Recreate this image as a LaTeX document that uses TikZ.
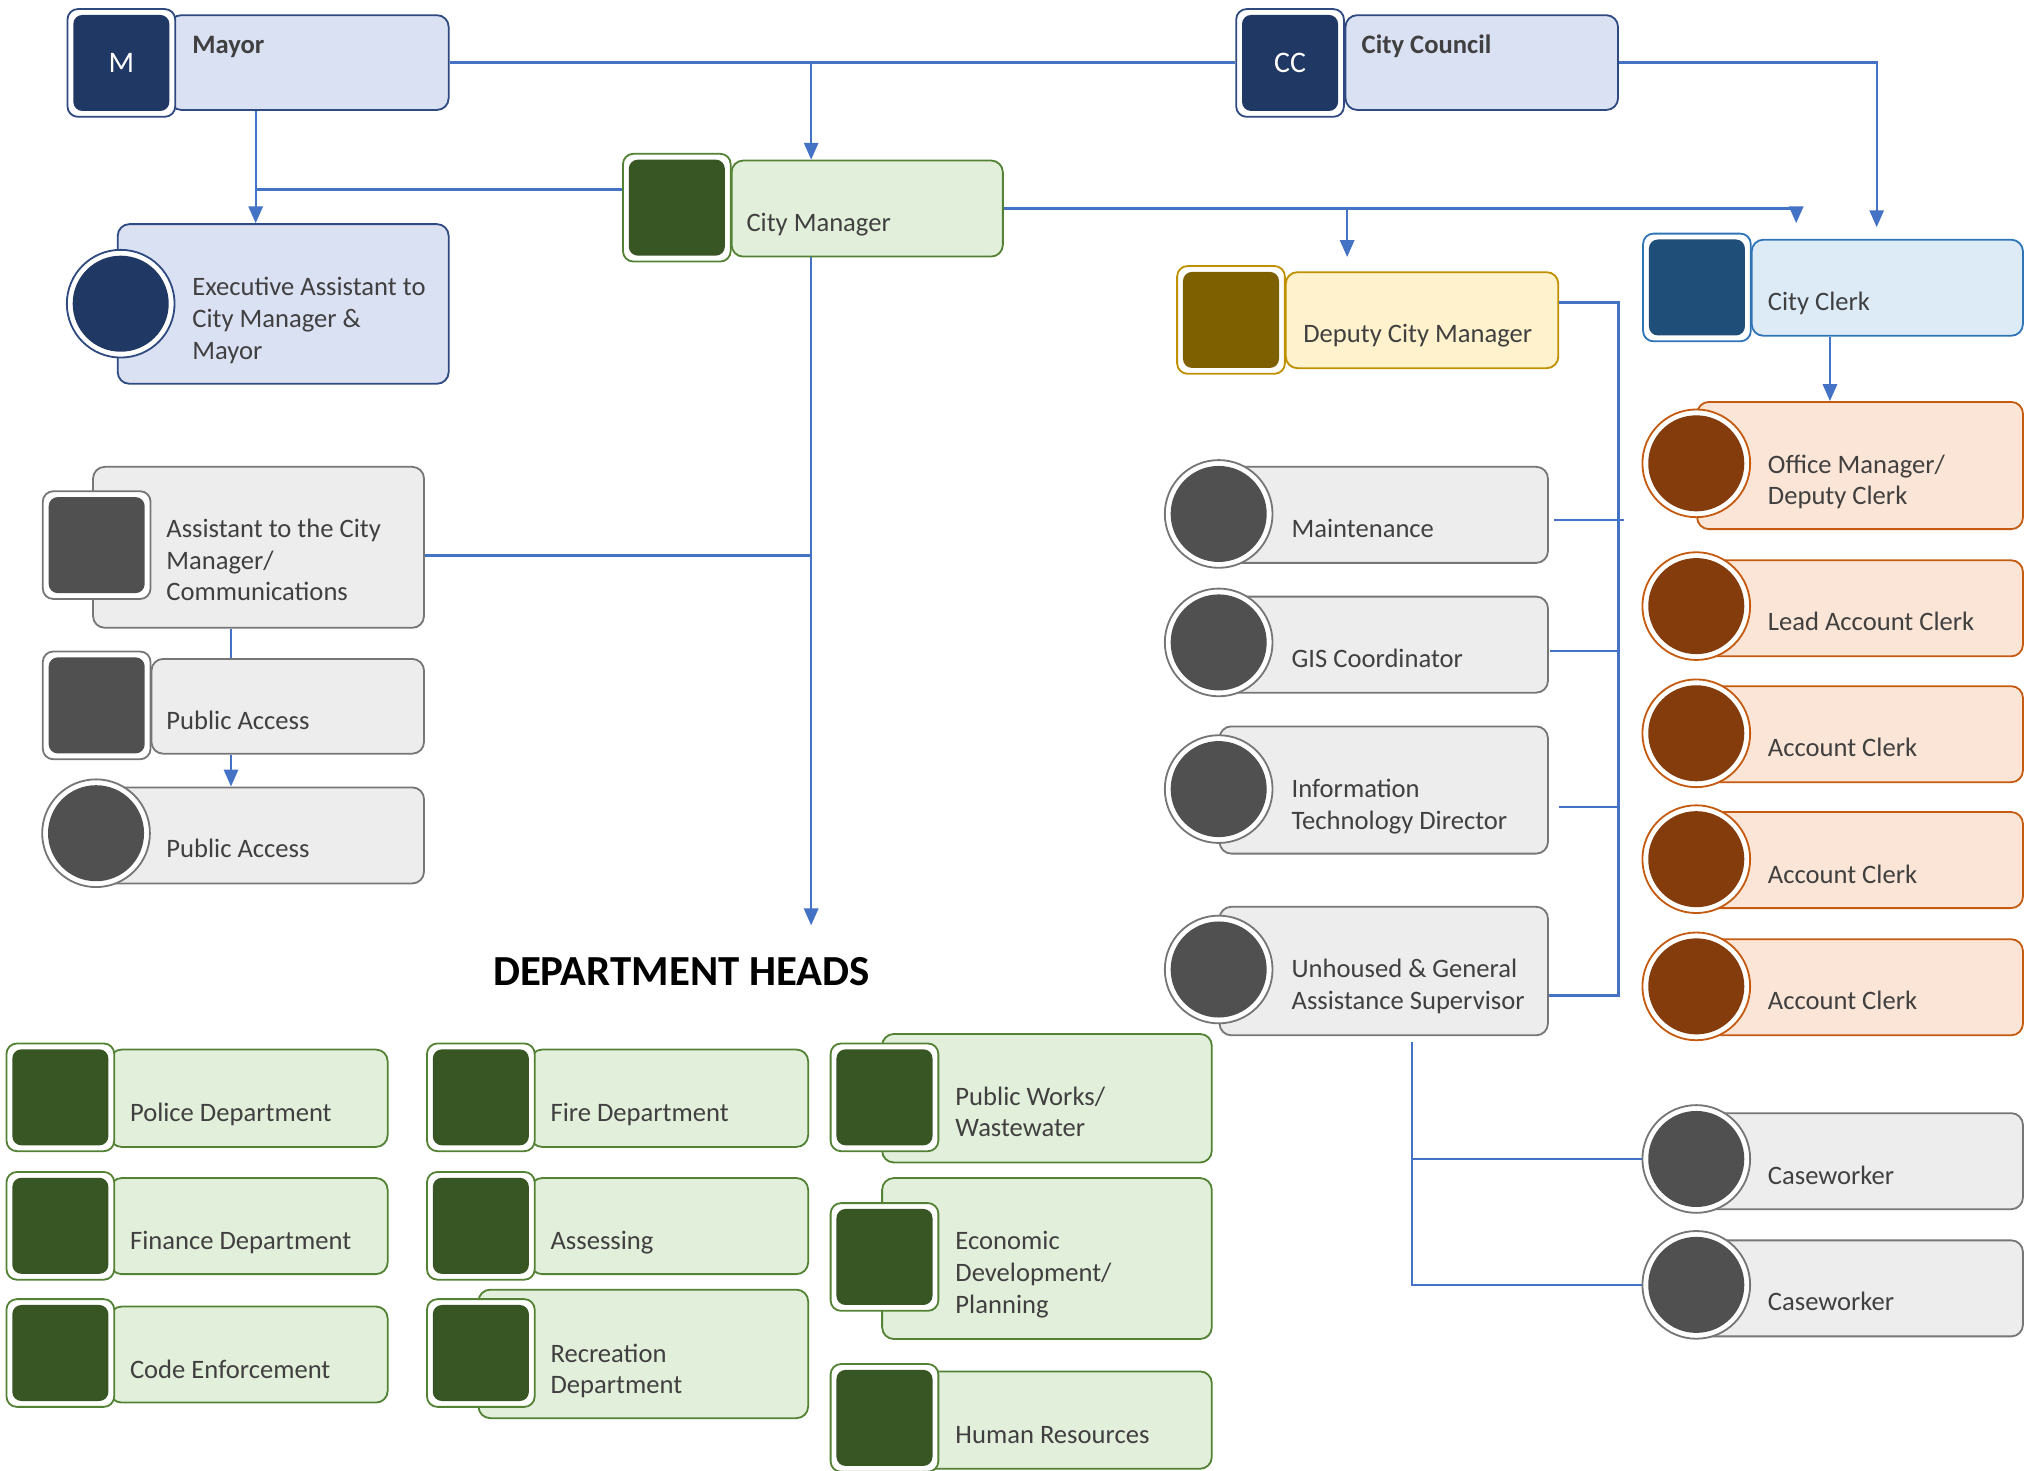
\documentclass[tikz,border=0pt]{standalone}
\usepackage{fontspec}
\setmainfont{Carlito}
\usetikzlibrary{arrows.meta,calc}

\definecolor{txt}{HTML}{404040}
\definecolor{linkblue}{HTML}{4472C4}
% card palettes: icon fill, body fill, border
\definecolor{navyI}{HTML}{203864}\definecolor{navyB}{HTML}{DAE1F3}\definecolor{navyL}{HTML}{2F4A80}
\definecolor{greenI}{HTML}{375623}\definecolor{greenB}{HTML}{E2EFDA}\definecolor{greenL}{HTML}{548235}
\definecolor{oliveI}{HTML}{7F6000}\definecolor{oliveB}{HTML}{FFF2CC}\definecolor{oliveL}{HTML}{BF9000}
\definecolor{blueI}{HTML}{1F4E79}\definecolor{blueB}{HTML}{DDEBF7}\definecolor{blueL}{HTML}{2E75B6}
\definecolor{grayI}{HTML}{505050}\definecolor{grayB}{HTML}{EDEDED}\definecolor{grayL}{HTML}{767676}
\definecolor{brownI}{HTML}{843C0C}\definecolor{brownB}{HTML}{FBE5D6}\definecolor{brownL}{HTML}{C55A11}

\newcommand\lblfont{\fontsize{20.5}{24.5}\selectfont}

\tikzset{
  body/.style={draw, rounded corners=9pt, line width=1.4pt, anchor=north west, inner sep=0pt},
  sqframe/.style={draw, fill=white, rounded corners=8pt, line width=1.4pt,
    minimum width=83pt, minimum height=83pt, inner sep=0pt},
  sqicon/.style={rounded corners=7pt, minimum width=74pt, minimum height=74pt, inner sep=0pt},
  ring/.style={circle, draw, fill=white, line width=1.4pt, minimum size=83pt, inner sep=0pt},
  dot/.style={circle, minimum size=74pt, inner sep=0pt},
  lbl/.style={anchor=base west, align=left, text=txt, font=\lblfont, inner sep=0pt},
  title/.style={lbl, font=\lblfont\bfseries},
  link/.style={draw=linkblue, line width=1.7pt},
  arr/.style={link, -{Triangle[width=11pt,length=13pt]}},
  navy/.style={draw=navyL, fill=navyB}, navyF/.style={draw=navyL}, navyD/.style={fill=navyI},
  green/.style={draw=greenL, fill=greenB}, greenF/.style={draw=greenL}, greenD/.style={fill=greenI},
  olive/.style={draw=oliveL, fill=oliveB}, oliveF/.style={draw=oliveL}, oliveD/.style={fill=oliveI},
  blu/.style={draw=blueL, fill=blueB}, bluF/.style={draw=blueL}, bluD/.style={fill=blueI},
  gry/.style={draw=grayL, fill=grayB}, gryF/.style={draw=grayL}, gryD/.style={fill=grayI},
  brn/.style={draw=brownL, fill=brownB}, brnF/.style={draw=brownL}, brnD/.style={fill=brownI},
}

% square-icon card: name, palette, body x, body y, width, height, icon centre
\newcommand\sqcard[7]{%
  \node[body,#2,minimum width=#5pt,minimum height=#6pt] (#1) at (#3,#4) {};
  \node[sqframe,#2F] (#1F) at #7 {};
  \node[sqicon,#2D] (#1I) at #7 {};}
% round-icon card: name, palette, body x, body y, width, height, icon centre
\newcommand\rdcard[7]{%
  \node[body,#2,minimum width=#5pt,minimum height=#6pt] (#1) at (#3,#4) {};
  \node[ring,#2F] (#1F) at #7 {};
  \node[dot,#2D] (#1I) at #7 {};}

\begin{document}
\begin{tikzpicture}[x=1pt,y=-1pt]
\useasboundingbox (0,0) rectangle (1568,1133);

% ---------- top level ----------
\sqcard{mayor}{navy}{130}{11}{215}{73}{(93.5,48.5)}
\node[text=white, font=\fontsize{23}{26}\selectfont] (mayorM) at (mayorI) {M};
\node[title] (mayorT) at (148,41) {Mayor};

\sqcard{cc}{navy}{1036}{11}{210}{73}{(994,48.5)}
\node[text=white, font=\fontsize{23}{26}\selectfont] (ccM) at (ccI) {CC};
\node[title] (ccT) at (1049,41) {City Council};

\sqcard{cm}{green}{563}{123}{209}{74}{(521.5,160)}
\node[lbl] (cmT) at (575,178) {City Manager};

\rdcard{exec}{navy}{90}{172}{255}{123}{(93,234)}
\node[lbl] (execT) at (148,277) {Executive Assistant to\\City Manager \&\\Mayor};

\sqcard{dcm}{olive}{990}{209}{210}{74}{(948.5,246.5)}
\node[lbl] (dcmT) at (1004,264) {Deputy City Manager};

\sqcard{clerk}{blu}{1349}{184}{209}{74}{(1307.5,221.5)}
\node[lbl] (clerkT) at (1362,239) {City Clerk};

% ---------- city manager's office ----------
\sqcard{asst}{gry}{71}{359}{255}{124}{(74.5,420)}
\node[lbl] (asstT) at (128,463) {Assistant to the City\\Manager/\\Communications};

\sqcard{pa}{gry}{116}{507}{210}{73}{(74.5,543.5)}
\node[lbl] (paT) at (128,562) {Public Access};

\rdcard{pb}{gry}{74}{606}{252}{74}{(74,642)}
\node[lbl] (pbT) at (128,661) {Public Access};

% ---------- deputy city manager's staff ----------
\rdcard{mnt}{gry}{939}{359}{253}{74}{(939,396)}
\node[lbl] (mntT) at (995,414) {Maintenance};
\rdcard{gis}{gry}{939}{459}{253}{74}{(939,495)}
\node[lbl] (gisT) at (995,514) {GIS Coordinator};
\rdcard{itd}{gry}{939}{559}{253}{98}{(939,608)}
\node[lbl] (itdT) at (995,639) {Information\\Technology Director};
\rdcard{unh}{gry}{939}{698}{253}{99}{(939,747)}
\node[lbl] (unhT) at (995,778) {Unhoused \& General\\Assistance Supervisor};

% ---------- clerk's office ----------
\rdcard{om}{brn}{1307}{309}{251}{98}{(1307,357)}
\node[lbl] (omT) at (1362,389) {Office Manager/\\Deputy Clerk};
\rdcard{lac}{brn}{1307}{431}{251}{74}{(1307,467)}
\node[lbl] (lacT) at (1362,486) {Lead Account Clerk};
\rdcard{aca}{brn}{1307}{528}{251}{74}{(1307,565)}
\node[lbl] (acaT) at (1362,583) {Account Clerk};
\rdcard{acb}{brn}{1307}{625}{251}{74}{(1307,662)}
\node[lbl] (acbT) at (1362,681) {Account Clerk};
\rdcard{acc}{brn}{1307}{723}{251}{74}{(1307,760)}
\node[lbl] (accT) at (1362,778) {Account Clerk};

\rdcard{cwa}{gry}{1307}{857}{251}{74}{(1307,893)}
\node[lbl] (cwaT) at (1362,913) {Caseworker};
\rdcard{cwb}{gry}{1307}{955}{251}{74}{(1307,990)}
\node[lbl] (cwbT) at (1362,1010) {Caseworker};

% ---------- department heads ----------
\node[text=black, font=\fontsize{33}{36}\selectfont\bfseries] (dh) at (525,749) {DEPARTMENT HEADS};

\sqcard{pol}{green}{84}{808}{214}{75}{(46.5,845.5)}
\node[lbl] (polT) at (100,864) {Police Department};
\sqcard{fin}{green}{84}{907}{214}{74}{(46.5,944.5)}
\node[lbl] (finT) at (100,963) {Finance Department};
\sqcard{code}{green}{84}{1006}{214}{74}{(46.5,1042.5)}
\node[lbl] (codeT) at (100,1062) {Code Enforcement};

\sqcard{fire}{green}{408}{808}{214}{75}{(370.5,845.5)}
\node[lbl] (fireT) at (424,864) {Fire Department};
\sqcard{ass}{green}{408}{907}{214}{74}{(370.5,944.5)}
\node[lbl] (assT) at (424,963) {Assessing};
\sqcard{rec}{green}{368}{993}{254}{99}{(370.5,1042.5)}
\node[lbl] (recT) at (424,1074) {Recreation\\Department};

\sqcard{pw}{green}{679}{796}{254}{99}{(681.5,845.5)}
\node[lbl] (pwT) at (736,876) {Public Works/\\Wastewater};
\sqcard{eco}{green}{679}{907}{254}{124}{(681.5,968.5)}
\node[lbl] (ecoT) at (736,1012) {Economic\\Development/\\Planning};
\sqcard{hr}{green}{700}{1056}{233}{75}{(681.5,1092.5)}
\node[lbl] (hrT) at (736,1112) {Human Resources};

% ---------- junction points ----------
\coordinate (jcm) at (625,47);
\coordinate (jmx) at (197,146);
\coordinate (jcc) at (1446,175);
\coordinate (jcl) at (1384,172);
\coordinate (jdc) at (1038,160);
\coordinate (jdcE) at (1038,198);
\coordinate (jdh) at (625,713);
\coordinate (jas) at (625,428);
\coordinate (jpa) at (178,500);
\coordinate (jd1) at (1247,233);
\coordinate (jd2) at (1247,767);
\coordinate (ju) at (1088,803);
\coordinate (jk) at (1410,300);

% ---------- connectors ----------
\draw[link] (mayor.east) -- (mayor.east -| ccF.west);
\draw[arr] (jcm) -- (cm.north -| jcm);
\draw[arr] (mayor.south -| jmx) -- (exec.north -| jmx);
\draw[link] (cmF.west |- jmx) -- (jmx);
\draw[arr] (cc.east) -| (jcc);
\draw[arr] (cm.east) -| (jcl);
\draw[arr] (jdc) -- (jdcE);
\draw[arr] (cm.south -| jdh) -- (jdh);
\draw[link] (asst.east |- jas) -- (jas);
\draw[link] (asst.south -| jpa) -- (pa.north -| jpa);
\draw[arr] (pa.south -| jpa) -- (pb.north -| jpa);

\draw[link] (dcm.east |- jd1) -- (jd1) -- (jd2) -- (unh.east |- jd2);
\draw[link] ($(mnt.east)+(4,4)$) -- ($(mnt.east -| jd1)+(4,4)$);
\draw[link] ($(gis.east)+(1,5)$) -- ($(gis.east -| jd1)+(0,5)$);
\draw[link] ($(itd.east)+(8,13)$) -- ($(itd.east -| jd1)+(0,13)$);

\draw[link] (ju) -- (ju |- cwbF.west) -- (cwbF.west);
\draw[link] (ju |- cwaF.west) -- (cwaF.west);

\draw[arr] (clerk.south -| jk) -- (om.north -| jk);
\end{tikzpicture}
\end{document}
